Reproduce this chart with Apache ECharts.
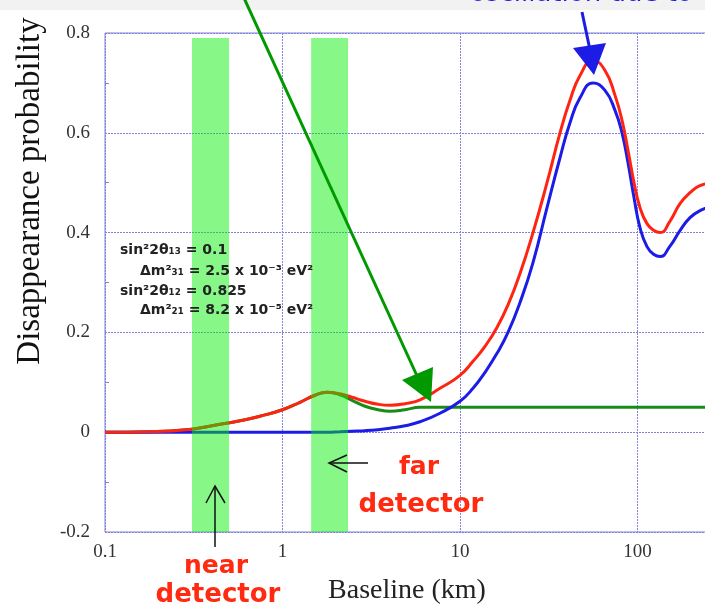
<!DOCTYPE html>
<html>
<head>
<meta charset="utf-8">
<script src="https://cdn.jsdelivr.net/npm/echarts@6/dist/echarts.min.js"></script>
<style>
  html, body { margin: 0; padding: 0; background: #fff; }
  #chart { width: 705px; height: 613px; }
</style>
</head>
<body>
<div id="chart"></div>
<script>
// baseline samples (km) and the three probability curves
const baselineKm = [0.1, 0.179, 0.309, 0.401, 0.576, 0.747, 1.0, 1.255, 1.525, 1.781, 2.108, 2.464, 2.917, 3.452,
  4.034, 4.898, 5.952, 7.716, 10, 11.84, 13.83, 16.16, 18.64, 21.78, 25.78, 30.92, 36.6, 41.66, 47.45, 56.15,
  65.6, 74.7, 81.8, 88.4, 95.6, 103.3, 113.1, 123.9, 133.9, 152.5, 173.5, 197.6, 224.9, 273.4];
const totalProb = [0, 0.001, 0.006, 0.013, 0.023, 0.032, 0.045, 0.06, 0.074, 0.08, 0.077, 0.07, 0.062, 0.056,
  0.054, 0.057, 0.065, 0.088, 0.114, 0.142, 0.172, 0.21, 0.255, 0.318, 0.40, 0.50, 0.60, 0.665, 0.715, 0.745,
  0.725, 0.675, 0.625, 0.565, 0.50, 0.45, 0.418, 0.404, 0.40, 0.423, 0.458, 0.48, 0.494, 0.50];
const solarProb = [0, 0, 0, 0, 0, 0, 0, 0, 0, 0, 0.001, 0.002, 0.003, 0.005,
  0.008, 0.013, 0.021, 0.038, 0.062, 0.088, 0.12, 0.158, 0.20, 0.26, 0.34, 0.45, 0.55, 0.62, 0.67, 0.70,
  0.685, 0.645, 0.60, 0.54, 0.47, 0.41, 0.372, 0.356, 0.352, 0.373, 0.404, 0.43, 0.444, 0.455];
const theta13Prob = [0, 0.001, 0.006, 0.013, 0.023, 0.032, 0.045, 0.06, 0.074, 0.08, 0.075, 0.064, 0.052, 0.045,
  0.042, 0.045, 0.05, 0.05, 0.05, 0.05, 0.05, 0.05, 0.05, 0.05, 0.05, 0.05, 0.05, 0.05, 0.05, 0.05,
  0.05, 0.05, 0.05, 0.05, 0.05, 0.05, 0.05, 0.05, 0.05, 0.05, 0.05, 0.05, 0.05, 0.05];

// detector ranges (km)
const detectorBands = [[0.309, 0.5], [1.45, 2.34]];
const bandTop = 0.79;
const bandBottom = -0.2;

const yTicks = { min: -0.2, max: 0.8, step: 0.2 };

const pairs = vals => baselineKm.map((x, i) => [x, vals[i]]);

const chart = echarts.init(document.getElementById('chart'));
const gridColor = '#8282d8';
const serif = '"Liberation Serif", "DejaVu Serif", serif';
const handFont = '"DejaVu Sans", sans-serif';

const option = {
  backgroundColor: '#ffffff',
  animation: false,
  grid: { left: 105, top: 33, width: 710, height: 499, outerBoundsMode: 'none',
    show: true, borderColor: gridColor, borderWidth: 1 },
  xAxis: {
    type: 'log', logBase: 10, min: 0.1, max: 1000,
    axisLine: { show: false },
    axisTick: { show: false },
    axisLabel: { fontFamily: serif, fontSize: 19, color: '#333', margin: 11,
      formatter: v => String(+v.toPrecision(3)) },
    splitLine: { show: true, lineStyle: { color: gridColor, width: 1, type: [2, 1] } }
  },
  yAxis: {
    type: 'value', min: yTicks.min, max: yTicks.max, interval: yTicks.step,
    axisLine: { show: false },
    axisTick: { show: false, inside: true },
    minorTick: { show: true, splitNumber: 2, length: 4, lineStyle: { color: gridColor } },
    axisLabel: { fontFamily: serif, fontSize: 19, color: '#333', margin: 15,
      formatter: v => String(Math.round(v * 10) / 10) },
    splitLine: { show: true, lineStyle: { color: gridColor, width: 1, type: [2, 1] } }
  },
  series: [
    { name: 'theta13', type: 'line', data: pairs(theta13Prob), smooth: 0.5, showSymbol: false,
      lineStyle: { color: '#178c17', width: 3 }, z: 3 },
    { name: 'solar', type: 'line', data: pairs(solarProb), smooth: 0.5, showSymbol: false,
      lineStyle: { color: '#1c1ce6', width: 3 }, z: 3 },
    { name: 'total', type: 'line', data: pairs(totalProb), smooth: 0.5, showSymbol: false,
      lineStyle: { color: '#ff2412', width: 3 }, z: 3 },
    { name: 'detectors', type: 'custom', data: detectorBands, z: 5,
      renderItem: function (params, api) {
        const p0 = api.coord([api.value(0), bandTop]);
        const p1 = api.coord([api.value(1), bandBottom]);
        return { type: 'rect', shape: { x: p0[0], y: p0[1], width: p1[0] - p0[0], height: p1[1] - p0[1] },
          style: { fill: 'rgba(0,240,0,0.47)' } };
      } }
  ],
  graphic: [
    { type: 'rect', left: 0, top: 0, z: -1, shape: { width: 705, height: 10 }, style: { fill: '#f2f2f2' } },
    { type: 'text', x: 30, y: 191, rotation: Math.PI / 2, z: 20,
      style: { text: 'Disappearance probability', font: '33px ' + serif, fill: '#111', align: 'center', verticalAlign: 'middle' } },
    { type: 'text', x: 407, y: 591, z: 20,
      style: { text: 'Baseline (km)', font: '28px ' + serif, fill: '#222', align: 'center', verticalAlign: 'middle' } },
    { type: 'text', x: 120, y: 250, z: 20,
      style: { text: 'sin²2θ₁₃ = 0.1', font: 'bold 14px ' + handFont, fill: '#222', verticalAlign: 'middle' } },
    { type: 'text', x: 140, y: 271, z: 20,
      style: { text: 'Δm²₃₁ = 2.5 x 10⁻³ eV²', font: 'bold 14px ' + handFont, fill: '#222', verticalAlign: 'middle' } },
    { type: 'text', x: 120, y: 291, z: 20,
      style: { text: 'sin²2θ₁₂ = 0.825', font: 'bold 14px ' + handFont, fill: '#222', verticalAlign: 'middle' } },
    { type: 'text', x: 140, y: 310, z: 20,
      style: { text: 'Δm²₂₁ = 8.2 x 10⁻⁵ eV²', font: 'bold 14px ' + handFont, fill: '#222', verticalAlign: 'middle' } },
    { type: 'text', x: 216, y: 566, z: 20,
      style: { text: 'near', font: 'bold 25px ' + handFont, fill: '#ff2a10', align: 'center', verticalAlign: 'middle' } },
    { type: 'text', x: 218, y: 595, z: 20,
      style: { text: 'detector', font: 'bold 26px ' + handFont, fill: '#ff2a10', align: 'center', verticalAlign: 'middle' } },
    { type: 'text', x: 419, y: 467, z: 20,
      style: { text: 'far', font: 'bold 25px ' + handFont, fill: '#ff2a10', align: 'center', verticalAlign: 'middle' } },
    { type: 'text', x: 421, y: 505, z: 20,
      style: { text: 'detector', font: 'bold 26px ' + handFont, fill: '#ff2a10', align: 'center', verticalAlign: 'middle' } },
    { type: 'text', x: 470, y: -6, z: 20,
      style: { text: 'oscillation due to', font: '26px ' + handFont, fill: '#1c1ce6', verticalAlign: 'middle' } },
    // black pointer arrows
    { type: 'polyline', z: 20, shape: { points: [[215, 547], [215, 486]] }, style: { stroke: '#111', lineWidth: 1.5, fill: null } },
    { type: 'polyline', z: 20, shape: { points: [[206, 503], [215, 486], [225, 503]] }, style: { stroke: '#111', lineWidth: 1.5, fill: null } },
    { type: 'polyline', z: 20, shape: { points: [[368, 463], [329, 463]] }, style: { stroke: '#111', lineWidth: 1.5, fill: null } },
    { type: 'polyline', z: 20, shape: { points: [[347, 455], [329, 463], [347, 472]] }, style: { stroke: '#111', lineWidth: 1.5, fill: null } },
    // green arrow
    { type: 'line', z: 20, shape: { x1: 244, y1: -2, x2: 418, y2: 378 }, style: { stroke: '#009a00', lineWidth: 3 } },
    { type: 'polygon', z: 20, shape: { points: [[402, 380], [433, 367], [431, 402]] }, style: { fill: '#009a00' } },
    // blue arrow
    { type: 'line', z: 20, shape: { x1: 582, y1: 12, x2: 590, y2: 50 }, style: { stroke: '#1c1ce6', lineWidth: 3 } },
    { type: 'polygon', z: 20, shape: { points: [[573, 48], [606, 43], [594, 75]] }, style: { fill: '#1c1ce6' } }
  ]
};

chart.setOption(option);
</script>
</body>
</html>
